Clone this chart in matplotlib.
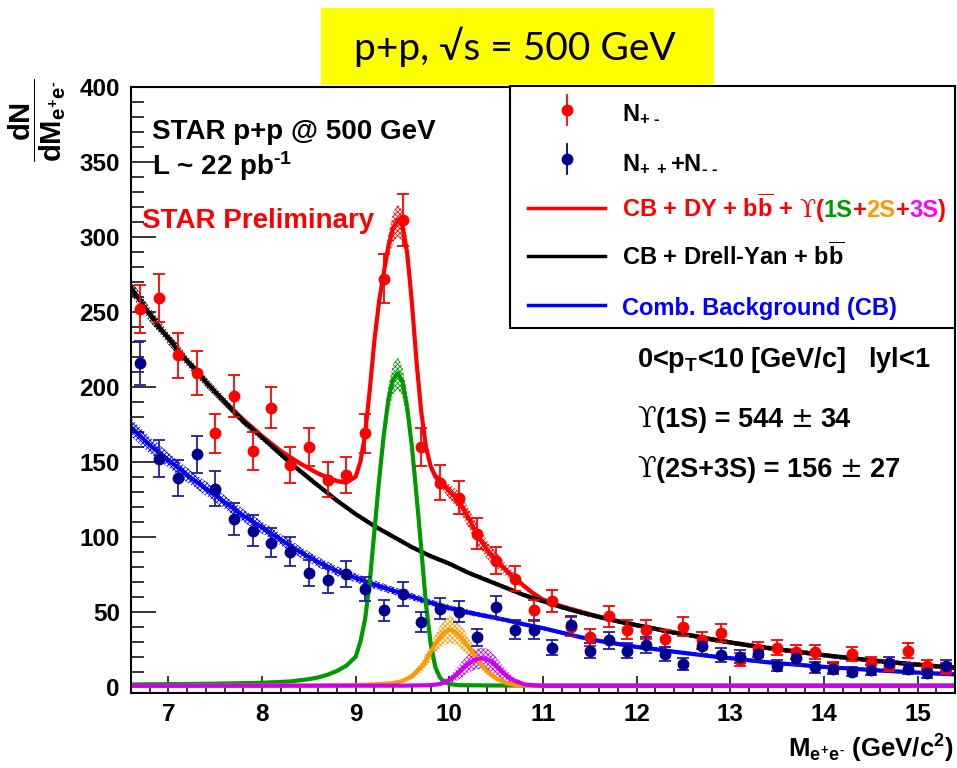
import numpy as np
import matplotlib
matplotlib.use('Agg')
import matplotlib.pyplot as plt
from matplotlib.ticker import MultipleLocator
from matplotlib.patches import Rectangle
from matplotlib.lines import Line2D

plt.rcParams['font.family'] = ['Liberation Sans', 'DejaVu Sans']
plt.rcParams['font.weight'] = 'bold'
plt.rcParams['mathtext.fontset'] = 'custom'
for k in ('rm', 'it', 'bf', 'sf'):
    plt.rcParams['mathtext.' + k] = 'Liberation Sans:bold'
plt.rcParams['hatch.linewidth'] = 0.6

# ---------------- data ----------------
bin_x = [6.7, 6.9, 7.1, 7.3, 7.5, 7.7, 7.9, 8.1, 8.3, 8.5, 8.7, 8.9, 9.1, 9.3, 9.5,
         9.7, 9.9, 10.1, 10.3, 10.5, 10.7, 10.9, 11.1, 11.3, 11.5, 11.7, 11.9, 12.1,
         12.3, 12.5, 12.7, 12.9, 13.1, 13.3, 13.5, 13.7, 13.9, 14.1, 14.3, 14.5, 14.7,
         14.9, 15.1, 15.3]
unlike_y = [252, 259, 221, 209, 169, 194, 157, 186, 148, 160, 138, 141, 169, 272, 311,
            160, 136, 126, 102, 84, 72, 51, 57, 40, 33, 47, 38, 38,
            32, 40, 31, 36, 18, 25, 26, 23, 23, 13, 22, 16, 14,
            24, 14, 12]
unlike_err = [16, 16, 15, 14.5, 13, 14, 12.5, 13.6, 12, 12.6, 11.7, 11.9, 13, 16.5, 17.6,
              12.6, 11.7, 11.2, 10.1, 9.2, 8.5, 7.1, 7.5, 6.3, 5.7, 6.9, 6.2, 6.2,
              5.7, 6.3, 5.6, 6, 4.2, 5, 5.1, 4.8, 4.8, 3.6, 4.7, 4, 3.7,
              4.9, 3.7, 3.5]
like_y = [216, 152, 139, 155, 132, 112, 104, 96, 90, 76, 71, 75, 65, 51, 62,
          43, 52, 50, 33, 53, 38, 38, 26, 41, 24, 31, 24, 28,
          22, 15, 27, 21, 20, 22, 14, 19, 13, 12, 10, 11, 16,
          12, 9, 14]
like_err = [14.7, 12.3, 11.8, 12.4, 11.5, 10.6, 10.2, 9.8, 9.5, 8.7, 8.4, 8.7, 8.1, 7.1, 7.9,
            6.6, 7.2, 7.1, 5.7, 7.3, 6.2, 6.2, 5.1, 6.4, 4.9, 5.6, 4.9, 5.3,
            4.7, 3.9, 5.2, 4.6, 4.5, 4.7, 3.7, 4.4, 3.6, 3.5, 3.2, 3.3, 4,
            3.5, 3, 3.7]

# background curves, sampled every 0.2 GeV
bg_x = [6.6, 6.8, 7.0, 7.2, 7.4, 7.6, 7.8, 8.0, 8.2, 8.4, 8.6, 8.8, 9.0, 9.2, 9.4,
        9.6, 9.8, 10.0, 10.2, 10.4, 10.6, 10.8, 11.0, 11.2, 11.4, 11.6, 11.8, 12.0,
        12.2, 12.4, 12.6, 12.8, 13.0, 13.2, 13.4, 13.6, 13.8, 14.0, 14.2, 14.4, 14.6,
        14.8, 15.0, 15.2, 15.4]
dy_curve = [266, 248, 232, 217, 203, 190, 177, 166, 155, 144, 134, 124, 115, 107, 100,
            93, 87, 82, 76, 71, 66, 61, 57, 53, 49.5, 46.5, 43.5, 41,
            38.5, 36, 34, 31.5, 29.5, 27.5, 25.8, 24.2, 22.7, 21, 19.6, 18.3, 17,
            15.8, 14.7, 13.6, 12.6]
dy_band = [5, 4.5, 4, 3.6, 3.2, 2.9, 2.6, 2.4, 2.2, 2, 1.8, 1.6, 1.5, 1.5, 1.5,
           1.5, 1.5, 1.5, 1.5, 1.5, 1.5, 1.5, 1.5, 1.5, 1.5, 1.5, 1.5, 1.5,
           1.5, 1.5, 1.5, 1.5, 1.5, 1.5, 1.5, 1.5, 1.5, 1.5, 1.5, 1.5, 1.5,
           1.5, 1.5, 1.5, 1.5]
cb_curve = [173, 161, 151, 141, 132, 123, 114, 106, 98, 90, 83, 77, 72.5, 68, 64,
            60, 56, 52.5, 49.5, 47, 44.5, 41.5, 39, 36, 33, 30.5, 28.5, 26.5,
            25, 23.3, 21.8, 20.3, 19, 17.6, 16.3, 15.2, 14.2, 13.2, 12.4, 11.6, 10.8,
            10.1, 9.4, 8.8, 8.2]
cb_band = [6, 5.5, 5, 4.8, 4.6, 4.4, 4.2, 4, 3.8, 3.6, 3.4, 3.2, 3, 2.8, 2.6,
           2.4, 2.2, 2, 1.8, 1.6, 1.5, 1.4, 1.3, 1.2, 1.2, 1.2, 1.2, 1.2,
           1.2, 1.2, 1.2, 1.2, 1.2, 1.2, 1.2, 1.2, 1.2, 1.2, 1.2, 1.2, 1.2,
           1.2, 1.2, 1.2, 1.2]

# total fit (red)
tot_x = [6.6, 6.8, 7.0, 7.2, 7.4, 7.6, 7.8, 8.0, 8.2, 8.4, 8.6, 8.8, 8.9, 9.0, 9.05,
         9.1, 9.15, 9.2, 9.25, 9.3, 9.35, 9.4, 9.45, 9.5, 9.55, 9.6, 9.65, 9.7, 9.75,
         9.8, 9.85, 9.9, 10.0, 10.1, 10.2, 10.3, 10.4, 10.5, 10.6, 10.7, 10.8, 10.9,
         11.0, 11.2, 11.4, 11.6, 12.0, 12.5, 13.0, 13.5, 14.0, 14.5, 15.0, 15.4]
tot_curve = [266, 248, 232, 217, 203, 190, 178, 167, 157, 149, 142, 137, 136, 140, 150,
             168, 198, 231, 257, 276, 294, 306, 311, 307, 289, 256, 216, 183, 160,
             147, 140, 137, 130, 124, 113, 101, 91.5, 84.5, 78, 72.5, 67, 62,
             58, 53.5, 50, 46.5, 41, 35, 29.5, 25, 21, 17.5, 14.7, 12.6]
tot_band = [1.5, 1.5, 1.5, 1.5, 1.5, 1.5, 1.5, 1.5, 1.5, 1.5, 1.5, 1.5, 1.5, 1.5, 1.5,
            2, 3, 4, 5, 6, 8, 10, 11, 10, 8, 6, 4, 3, 2.5,
            2.5, 2.5, 3, 5, 6, 6.5, 6.5, 6, 5, 4, 3, 2, 1.5,
            1.5, 1.5, 1.5, 1.5, 1.5, 1.5, 1.5, 1.5, 1.5, 1.5, 1.5, 1.5]

# Upsilon(1S) (green)
s1_x = [6.6, 7.0, 7.5, 8.0, 8.3, 8.5, 8.6, 8.7, 8.8, 8.9, 9.0, 9.05, 9.1, 9.15, 9.2,
        9.25, 9.3, 9.35, 9.4, 9.45, 9.5, 9.55, 9.6, 9.65, 9.7, 9.75, 9.8, 9.85, 9.9,
        9.95, 10.0, 10.1, 10.5, 15.4]
s1_curve = [1.5, 1.7, 2.0, 2.6, 3.5, 5, 6.2, 8, 10.5, 14, 20, 30, 45, 70, 104,
            138, 168, 192, 205, 209, 203, 186, 160, 127, 92, 55, 29, 13, 6,
            3, 1.8, 1.0, 0.8, 0.8]
s1_band = [0, 0, 0, 0, 0, 0, 0, 0, 0, 0, 0.5, 1, 2, 3, 5,
           6, 8, 9, 10, 11, 10, 9, 7, 5, 4, 3, 2, 1, 0.5,
           0, 0, 0, 0, 0]

# Upsilon(2S) (orange)
s2_x = [6.6, 8.5, 9.0, 9.2, 9.4, 9.5, 9.6, 9.7, 9.75, 9.8, 9.85, 9.9, 9.95, 10.0,
        10.05, 10.1, 10.15, 10.2, 10.25, 10.3, 10.35, 10.4, 10.5, 10.6, 10.7, 10.8,
        11.0, 15.4]
s2_curve = [0.5, 0.8, 1.1, 1.5, 2.4, 3.8, 7, 13, 17.5, 23, 28.5, 33, 36.5, 38,
            37, 34.5, 31, 27, 22.5, 18, 14, 10.5, 5.5, 2.6, 1.2, 0.7,
            0.5, 0.5]
s2_band = [0, 0, 0, 0, 0.5, 1, 2, 3.5, 4.5, 5.5, 6.5, 7.5, 8.5, 9,
           8.5, 8, 7.5, 6.5, 5.5, 4.5, 3.5, 2.5, 1.5, 0.5, 0, 0,
           0, 0]

# Upsilon(3S) (magenta)
s3_x = [6.6, 9.5, 9.8, 9.9, 10.0, 10.05, 10.1, 10.15, 10.2, 10.25, 10.3, 10.35, 10.4,
        10.45, 10.5, 10.55, 10.6, 10.65, 10.7, 10.8, 10.9, 11.0, 15.4]
s3_curve = [0.6, 0.7, 1.0, 1.8, 4.5, 6.8, 9.3, 12.4, 15, 17.2, 18.6, 19, 18.4,
            16.5, 13.6, 10.5, 7.8, 5.6, 3.8, 1.6, 0.9, 0.6, 0.6]
s3_band = [0, 0, 0.5, 1, 2.5, 3.5, 4.5, 5.5, 6, 6.5, 7, 7, 7,
           6.5, 6, 5, 4, 3, 2, 1, 0.5, 0, 0]

x_ticks = [7, 8, 9, 10, 11, 12, 13, 14, 15]
y_ticks = [0, 50, 100, 150, 200, 250, 300, 350, 400]

RED = '#ff0000'
NAVY = '#000090'
BLUE = '#0000ff'
GREEN = '#009900'
ORANGE = '#ff9900'
MAGENTA = '#cc00ee'
MAGENTA_T = '#ff00ff'

# ---------------- figure ----------------
W, H = 957, 768
fig = plt.figure(figsize=(W / 100, H / 100), dpi=100)


def fx(px):
    return px / W


def fy(py):
    return 1 - py / H


ax = fig.add_axes([fx(131), fy(693), (955 - 131) / W, (693 - 86.5) / H])
ax.set_xlim(6.6, 15.4)
ax.set_ylim(-4.2, 400)
ax.set_xticks(x_ticks)
ax.set_yticks(y_ticks)
ax.xaxis.set_minor_locator(MultipleLocator(0.2))
ax.yaxis.set_minor_locator(MultipleLocator(10))
ax.tick_params(which='both', direction='in', top=False, right=False)
ax.tick_params(axis='x', which='major', length=12, width=1.1, pad=7, labelsize=17.5)
ax.tick_params(axis='x', which='minor', length=6, width=1.1)
ax.tick_params(axis='y', which='major', length=18, width=1.1, pad=8, labelsize=17.5)
ax.tick_params(axis='y', which='minor', length=9, width=1.1)
for sp in ax.spines.values():
    sp.set_linewidth(1.5)


def band(x, y, b, color):
    x = np.asarray(x, float)
    y = np.asarray(y, float)
    b = np.asarray(b, float)
    ax.fill_between(x, y - b, y + b, facecolor='none', edgecolor=color,
                    hatch='xxxxxxx', linewidth=0, zorder=1.5)


band(tot_x, tot_curve, tot_band, RED)
band(bg_x, dy_curve, dy_band, 'black')
band(bg_x, cb_curve, cb_band, BLUE)
band(s1_x, s1_curve, s1_band, GREEN)
band(s2_x, s2_curve, s2_band, ORANGE)
band(s3_x, s3_curve, s3_band, MAGENTA)

LW = 3.0
ax.plot(tot_x, tot_curve, color=RED, lw=LW, zorder=2)
ax.plot(bg_x, dy_curve, color='black', lw=LW, zorder=2.1)
ax.plot(bg_x, cb_curve, color=BLUE, lw=LW, zorder=2.1)
ax.plot(s1_x, s1_curve, color=GREEN, lw=LW, zorder=2.2)
ax.plot(s2_x, s2_curve, color=ORANGE, lw=LW, zorder=2.3)
ax.plot(s3_x, s3_curve, color=MAGENTA, lw=LW, zorder=2.4)

ax.errorbar(bin_x, unlike_y, yerr=unlike_err, fmt='o', ms=7.5, color=RED,
            ecolor=RED, elinewidth=1.3, capsize=4, capthick=1.3, zorder=4)
ax.errorbar(bin_x, like_y, yerr=like_err, fmt='o', ms=7.5, color=NAVY,
            ecolor='#2020a0', elinewidth=1.3, capsize=4, capthick=1.3, zorder=4)

# ---------------- rich text helper ----------------
renderer = fig.canvas.get_renderer()


def rich(xpx, ypx, pieces, size, zorder=7):
    x = xpx
    sp = 0.278 * size * 100 / 72
    for s, color, fam in pieces:
        lead = len(s) - len(s.lstrip(' '))
        trail = len(s) - len(s.rstrip(' '))
        core = s.strip(' ')
        x += lead * sp
        kw = dict(fontsize=size, color=color, va='baseline', ha='left', zorder=zorder)
        if fam == 'serif':
            kw.update(family=['DejaVu Serif'], weight='normal')
        t = fig.text(fx(x), fy(ypx), core, **kw)
        x += t.get_window_extent(renderer).width + trail * sp


# ---------------- legend ----------------
fig.add_artist(Rectangle((fx(510), fy(328)), (955 - 510) / W, (328 - 86) / H,
                         transform=fig.transFigure, facecolor='white',
                         edgecolor='black', lw=1.5, zorder=5))
for yy, col in ((110, RED), (159, NAVY)):
    fig.add_artist(Line2D([fx(567), fx(567)], [fy(yy - 15), fy(yy + 15)],
                          color=col, lw=1.3, transform=fig.transFigure, zorder=6))
    fig.add_artist(Line2D([fx(567)], [fy(yy)], marker='o', ms=7.5, color=col,
                          transform=fig.transFigure, zorder=6))
for yy, col in ((208, RED), (256, 'black'), (305, BLUE)):
    fig.add_artist(Line2D([fx(528), fx(605)], [fy(yy), fy(yy)], color=col, lw=2.5,
                          transform=fig.transFigure, zorder=6))

LS = 17
rich(622, 120, [(r'N$_{+\ \text{-}}$', 'black', 'sans')], LS)
rich(622, 170, [(r'N$_{+\ +}$+N$_{\text{-}\ \text{-}}$', 'black', 'sans')], LS)
rich(622, 217, [(r'CB + DY + b$\overline{b}$ + ', RED, 'sans'),
                ('\u03d2', RED, 'serif'),
                ('(', RED, 'sans'), ('1S', GREEN, 'sans'), ('+', RED, 'sans'),
                ('2S', ORANGE, 'sans'), ('+', RED, 'sans'),
                ('3S', MAGENTA_T, 'sans'), (')', RED, 'sans')], LS)
rich(622, 265, [(r'CB + Drell-Yan + b$\overline{b}$', 'black', 'sans')], LS)
rich(622, 315, [('Comb. Background (CB)', BLUE, 'sans')], LS)

# ---------------- annotations ----------------
fig.text(fx(152), fy(139), 'STAR p+p @ 500 GeV', fontsize=20, va='baseline', zorder=7)
fig.text(fx(152), fy(175), r'L ~ 22 pb$^{\text{-}1}$', fontsize=20, va='baseline', zorder=7)
fig.text(fx(142), fy(228), 'STAR Preliminary', fontsize=20, color=RED, va='baseline', zorder=7)

AS = 19.5
rich(637, 367, [(r'0<p$_{T}$<10 [GeV/c]   lyl<1', 'black', 'sans')], AS)
rich(637, 427, [('\u03d2', 'black', 'serif'), ('(1S) = 544 ', 'black', 'sans'),
                ('\u00b1', 'black', 'serif'), (' 34', 'black', 'sans')], AS)
rich(637, 477, [('\u03d2', 'black', 'serif'), ('(2S+3S) = 156 ', 'black', 'sans'),
                ('\u00b1', 'black', 'serif'), (' 27', 'black', 'sans')], AS)

# axis titles
fig.text(fx(954), fy(758), r'M$_{e^{+}e^{\text{-}}}$ (GeV/c$^{2}$)', fontsize=18.5,
         ha='right', va='baseline')
fig.text(fx(37), fy(120), r'$\dfrac{dN}{dM_{e^{+}e^{\text{-}}}}$', fontsize=21,
         rotation=90, ha='center', va='center')

# ---------------- title box ----------------
fig.add_artist(Rectangle((fx(321), fy(85)), (714 - 321) / W, (85 - 8) / H,
                         transform=fig.transFigure, facecolor='#ffff00',
                         edgecolor='none', zorder=8))
fig.text(fx(515), fy(60), 'p+p, \u221as = 500 GeV', fontsize=28,
         family=['Lato', 'DejaVu Sans'], weight='normal', ha='center',
         va='baseline', zorder=9)

fig.savefig('out.png', dpi=100)
